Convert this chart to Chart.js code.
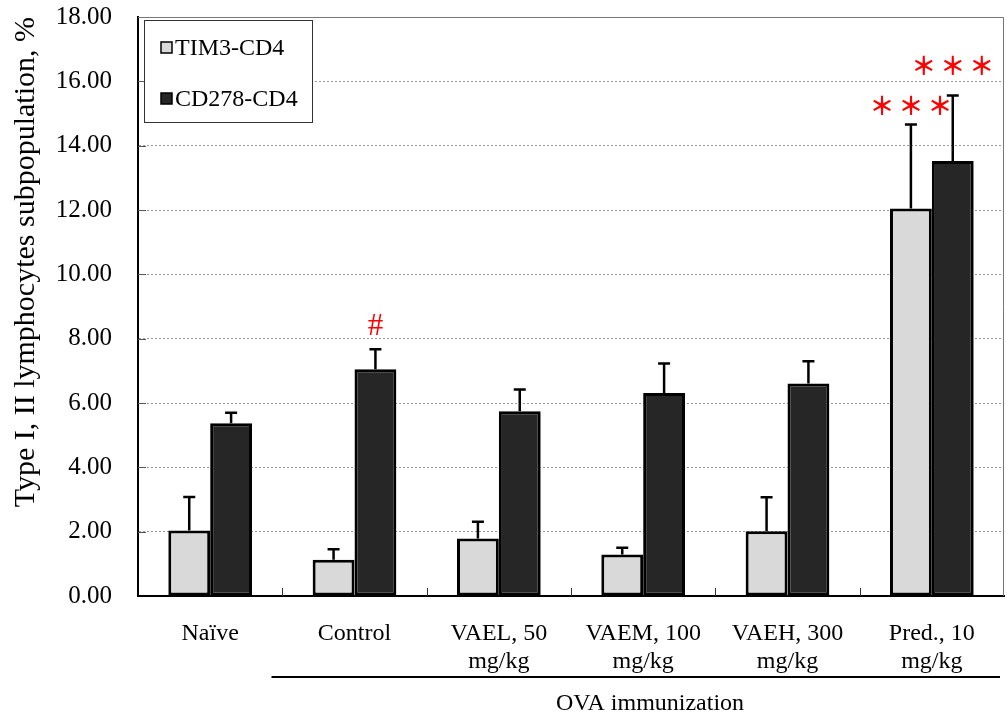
<!DOCTYPE html>
<html>
<head>
<meta charset="utf-8">
<script src="https://cdn.jsdelivr.net/npm/chart.js@4.4.1/dist/chart.umd.min.js"></script>
<style>
    html, body { margin: 0; padding: 0; background: #fff; }
</style>
</head>
<body>
<canvas id="chart" width="1007" height="717"></canvas>
<script>
// Data
const categories = [['Naïve'], ['Control'], ['VAEL, 50', 'mg/kg'], ['VAEM, 100', 'mg/kg'], ['VAEH, 300', 'mg/kg'], ['Pred., 10', 'mg/kg']];
const seriesNames = ['TIM3-CD4', 'CD278-CD4'];
const tim3Values = [2.04, 1.13, 1.79, 1.29, 2.01, 12.05];
const tim3Err = [1.04, 0.32, 0.52, 0.21, 1.06, 2.61];
const cd278Values = [5.37, 7.05, 5.74, 6.31, 6.61, 13.52];
const cd278Err = [0.33, 0.62, 0.68, 0.92, 0.69, 2.04];
const yTicks = [0, 2, 4, 6, 8, 10, 12, 14, 16, 18];
const groupLabel = 'OVA immunization';
// significance marks: category index, dataset index, text
const marks = [
    { cat: 1, ds: 1, text: '#' },
    { cat: 5, ds: 0, text: '***' },
    { cat: 5, ds: 1, text: '***' }
];

const errors = [tim3Err, cd278Err];
const colors = ['#d9d9d9', '#262626'];
const serif = "'Liberation Serif', 'Times New Roman', serif";

// Extra drawing: error bars, frame, legend, marks, group line
const extrasPlugin = {
    id: 'extras',
    beforeDatasetsDraw(chart) {
        const { ctx, chartArea: a, scales: { x, y } } = chart;
        ctx.save();
        // short solid ticks inside on y gridlines
        ctx.strokeStyle = '#555';
        ctx.lineWidth = 1;
        yTicks.forEach(t => {
            if (t === 0 || t === 18) return;
            const py = Math.round(y.getPixelForValue(t)) + 0.5;
            ctx.beginPath();
            ctx.moveTo(a.left, py);
            ctx.lineTo(a.left + 8, py);
            ctx.stroke();
        });
        // frame top/right
        ctx.strokeStyle = '#777';
        ctx.beginPath();
        ctx.moveTo(a.left, a.top + 0.5);
        ctx.lineTo(a.right - 0.5, a.top + 0.5);
        ctx.lineTo(a.right - 0.5, a.bottom);
        ctx.stroke();
        // category ticks inside on x axis
        ctx.strokeStyle = '#333';
        const w = (a.right - a.left) / categories.length;
        for (let i = 1; i < categories.length; i++) {
            const px = Math.round(a.left + i * w) + 0.5;
            ctx.beginPath();
            ctx.moveTo(px, a.bottom);
            ctx.lineTo(px, a.bottom - 8);
            ctx.stroke();
        }
        ctx.restore();
    },
    afterDatasetsDraw(chart) {
        const { ctx, chartArea: a, scales: { x, y } } = chart;
        ctx.save();
        // error bars
        ctx.strokeStyle = '#000';
        ctx.lineWidth = 2.5;
        chart.data.datasets.forEach((ds, di) => {
            const meta = chart.getDatasetMeta(di);
            meta.data.forEach((bar, i) => {
                const top = y.getPixelForValue(ds.data[i] + errors[di][i]);
                ctx.beginPath();
                ctx.moveTo(bar.x, bar.y);
                ctx.lineTo(bar.x, top);
                ctx.moveTo(bar.x - 6, top);
                ctx.lineTo(bar.x + 6, top);
                ctx.stroke();
            });
        });

        // significance marks
        const lift = [22, 19, 30];
        ctx.fillStyle = '#ff0000';
        ctx.textAlign = 'center';
        ctx.textBaseline = 'middle';
        marks.forEach((m, k) => {
            const bar = chart.getDatasetMeta(m.ds).data[m.cat];
            const ds = chart.data.datasets[m.ds];
            const top = y.getPixelForValue(ds.data[m.cat] + errors[m.ds][m.cat]);
            const cy = top - lift[k];
            if (m.text === '#') {
                ctx.font = '31px ' + serif;
                ctx.fillText('#', bar.x, cy);
            } else {
                ctx.font = "bold 25px 'Noto Sans CJK JP'";
                const chars = m.text.split('');
                chars.forEach((c, j) => {
                    ctx.fillText('＊', bar.x + (j - 1) * 29, cy);
                });
            }
        });

        // legend box
        ctx.fillStyle = '#fff';
        ctx.fillRect(144, 20, 168, 102);
        ctx.strokeStyle = '#333';
        ctx.lineWidth = 1;
        ctx.strokeRect(144.5, 20.5, 168, 102);
        ctx.font = '24px ' + serif;
        ctx.textAlign = 'left';
        ctx.textBaseline = 'middle';
        seriesNames.forEach((name, i) => {
            const cy = 48 + i * 51;
            ctx.fillStyle = colors[i];
            ctx.fillRect(161, cy - 6, 11, 11);
            ctx.strokeStyle = '#000';
            ctx.lineWidth = 1.5;
            ctx.strokeRect(161, cy - 6, 11, 11);
            ctx.fillStyle = '#000';
            ctx.fillText(name, 175, cy + 1);
        });

        // group line + label
        const x1 = x.getPixelForValue(1) - 83;
        const x2 = a.right - 4;
        ctx.strokeStyle = '#000';
        ctx.lineWidth = 2;
        ctx.beginPath();
        ctx.moveTo(x1, 677);
        ctx.lineTo(x2, 677);
        ctx.stroke();
        ctx.font = '24px ' + serif;
        ctx.textAlign = 'center';
        ctx.fillStyle = '#000';
        ctx.fillText(groupLabel, 650, 704);
        ctx.restore();
    }
};

const ctx = document.getElementById('chart').getContext('2d');
new Chart(ctx, {
    type: 'bar',
    data: {
        labels: categories,
        datasets: [
            {
                label: seriesNames[0],
                data: tim3Values,
                backgroundColor: colors[0],
                borderColor: '#000',
                borderWidth: 3,
                borderSkipped: false,
                categoryPercentage: 0.58,
                barPercentage: 1.0
            },
            {
                label: seriesNames[1],
                data: cd278Values,
                backgroundColor: colors[1],
                borderColor: '#000',
                borderWidth: 3,
                borderSkipped: false,
                categoryPercentage: 0.58,
                barPercentage: 1.0
            }
        ]
    },
    options: {
        responsive: false,
        animation: false,
        layout: { padding: { top: 17, right: 3, bottom: 0, left: 0 } },
        plugins: {
            legend: { display: false },
            tooltip: { enabled: false }
        },
        scales: {
            x: {
                grid: { display: false, drawTicks: false },
                border: { display: true, color: '#000', width: 2 },
                ticks: {
                    color: '#000',
                    padding: 24,
                    maxRotation: 0,
                    autoSkip: false,
                    font: { family: serif, size: 24, lineHeight: 1.15 }
                },
                afterFit(scale) {
                    scale.height = 121;
                    scale.paddingLeft = 0;
                    scale.paddingRight = 0;
                }
            },
            y: {
                min: 0,
                max: 18,
                afterBuildTicks(scale) { scale.ticks = yTicks.map(v => ({ value: v })); },
                grid: {
                    color: '#999',
                    lineWidth: 1,
                    drawTicks: false
                },
                border: { display: true, color: '#000', width: 2, dash: [2, 2] },
                ticks: {
                    color: '#000',
                    padding: 26,
                    font: { family: serif, size: 25 },
                    callback: v => Number(v).toFixed(2)
                },
                title: {
                    display: true,
                    text: 'Type I, II lymphocytes subpopulation, %',
                    color: '#000',
                    align: 'end',
                    font: { family: serif, size: 30 },
                    padding: { top: 8, bottom: 0 }
                },
                afterFit(scale) {
                    scale.width = 138;
                    scale.paddingTop = 0;
                    scale.paddingBottom = 0;
                }
            }
        }
    },
    plugins: [extrasPlugin]
});
</script>
</body>
</html>
